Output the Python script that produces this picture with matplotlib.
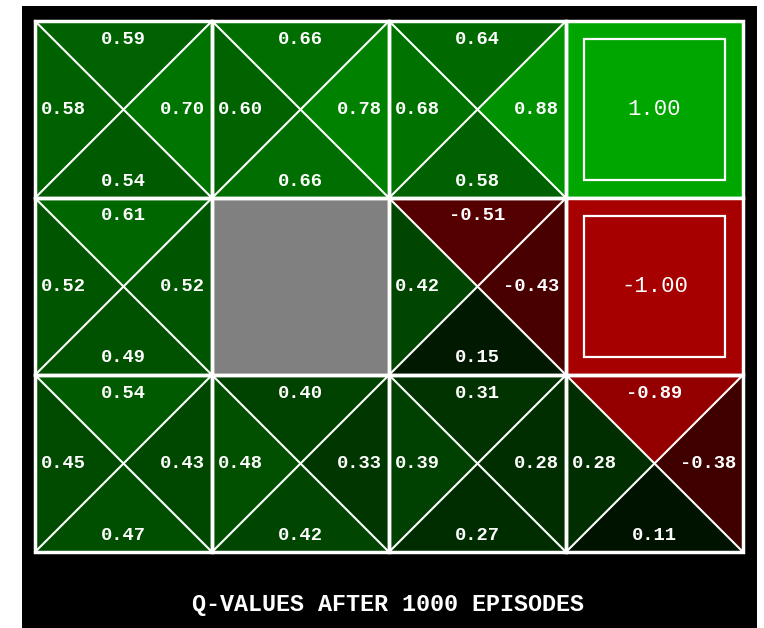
import matplotlib
matplotlib.use("Agg")
import matplotlib.pyplot as plt
from matplotlib.patches import Polygon, Rectangle
from matplotlib.colors import LinearSegmentedColormap, Normalize

# Q-values per cell: (north, east, south, west); None = wall, float = terminal value
q_north = [[0.59, 0.66, 0.64, None],
           [0.61, None, -0.51, None],
           [0.54, 0.40, 0.31, -0.89]]
q_east = [[0.70, 0.78, 0.88, None],
          [0.52, None, -0.43, None],
          [0.43, 0.33, 0.28, -0.38]]
q_south = [[0.54, 0.66, 0.58, None],
           [0.49, None, 0.15, None],
           [0.47, 0.42, 0.27, 0.11]]
q_west = [[0.58, 0.60, 0.68, None],
          [0.52, None, 0.42, None],
          [0.45, 0.48, 0.39, 0.28]]
terminals = {(0, 3): 1.00, (1, 3): -1.00}
walls = [(1, 1)]
title = "Q-VALUES AFTER 1000 EPISODES"

W, H = 764, 628
fig = plt.figure(figsize=(W / 100, H / 100), dpi=100)
fig.patch.set_facecolor("white")
ax = fig.add_axes([0, 0, 1, 1])
ax.set_xlim(0, W)
ax.set_ylim(H, 0)
ax.axis("off")

ax.add_patch(Rectangle((22, 6), 735, 630, facecolor="black", edgecolor="none"))

cmap = LinearSegmentedColormap.from_list(
    "qv", [(0.65, 0, 0), (0, 0, 0), (0, 0.65, 0)])
norm = Normalize(-1, 1)

X0, Y0, CS = 35, 21, 177
nrows, ncols = 3, 4
font = "Liberation Mono"
fs = 13.5
lw_diag = 1.5
lw_edge = 2.5

for r in range(nrows):
    for c in range(ncols):
        x0 = X0 + c * CS
        y0 = Y0 + r * CS
        x1, y1 = x0 + CS, y0 + CS
        cx, cy = (x0 + x1) / 2, (y0 + y1) / 2
        if (r, c) in walls:
            ax.add_patch(Rectangle((x0, y0), CS, CS, facecolor=(0.5, 0.5, 0.5),
                                   edgecolor="white", lw=lw_edge, zorder=2))
            continue
        if (r, c) in terminals:
            v = terminals[(r, c)]
            ax.add_patch(Rectangle((x0, y0), CS, CS, facecolor=cmap(norm(v)),
                                   edgecolor="white", lw=lw_edge, zorder=2))
            ax.add_patch(Rectangle((x0 + 17.5, y0 + 18), CS - 36, CS - 36,
                                   facecolor="none", edgecolor="white", lw=1.6, zorder=3))
            ax.text(cx, cy, f"{v:.2f}", color="white", fontsize=16,
                    family=font, ha="center", va="center", zorder=4)
            continue
        tris = {
            "n": [(x0, y0), (x1, y0), (cx, cy)],
            "e": [(x1, y0), (x1, y1), (cx, cy)],
            "s": [(x0, y1), (x1, y1), (cx, cy)],
            "w": [(x0, y0), (x0, y1), (cx, cy)],
        }
        vals = {"n": q_north[r][c], "e": q_east[r][c],
                "s": q_south[r][c], "w": q_west[r][c]}
        for k, pts in tris.items():
            ax.add_patch(Polygon(pts, closed=True, facecolor=cmap(norm(vals[k])),
                                 edgecolor="none", zorder=1))
        ax.plot([x0, x1], [y0, y1], color="white", lw=lw_diag, zorder=2)
        ax.plot([x0, x1], [y1, y0], color="white", lw=lw_diag, zorder=2)
        ax.add_patch(Rectangle((x0, y0), CS, CS, facecolor="none",
                               edgecolor="white", lw=lw_edge, zorder=3))
        kw = dict(color="white", fontsize=fs, family=font, weight="bold",
                  va="center", zorder=4)
        ax.text(cx, y0 + 18, f"{vals['n']:.2f}", ha="center", **kw)
        ax.text(cx, y1 - 17, f"{vals['s']:.2f}", ha="center", **kw)
        ax.text(x0 + 6, cy, f"{vals['w']:.2f}", ha="left", **kw)
        ax.text(x1 - 7, cy, f"{vals['e']:.2f}", ha="right", **kw)

ax.text(388, 604, title, color="white", fontsize=16.8, family=font,
        weight="bold", ha="center", va="center")

fig.savefig("out.png", dpi=100, facecolor="white")
